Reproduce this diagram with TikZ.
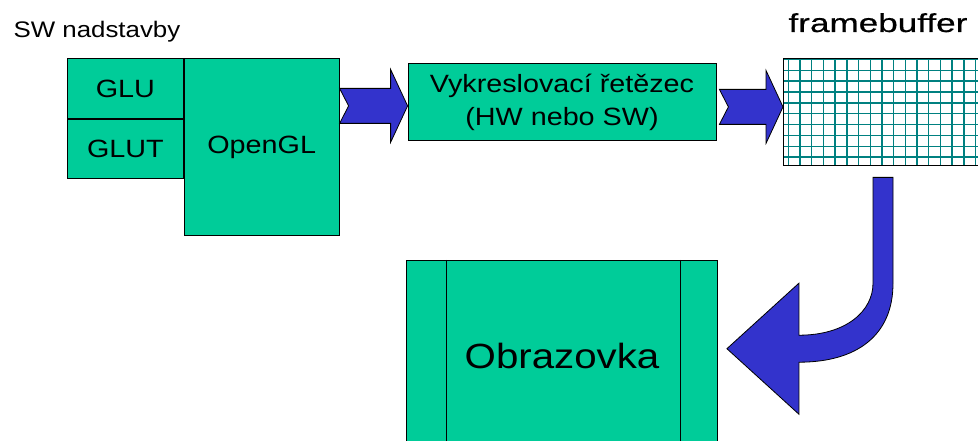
\documentclass[tikz,border=0pt]{standalone}
\usepackage{fontspec}
\setmainfont{Liberation Sans}[FakeStretch=1.15]
\newfontfamily\widefont{Liberation Sans}[FakeStretch=1.35, FakeBold=0.6]
\usetikzlibrary{positioning, calc}

\definecolor{boxgreen}{RGB}{0,204,153}
\definecolor{arrowblue}{RGB}{51,51,204}
\definecolor{gridteal}{RGB}{0,128,128}

% notched block arrow from a tail point to a tip point
\newcommand{\blockarrow}[2]{%
  \filldraw[fill=arrowblue, draw=black, line width=0.8pt] let \p1=(#1), \p2=(#2) in
    (\x1,\y1+17.5pt) -- (\x2-17pt,\y1+17.5pt) -- (\x2-17pt,\y1+36.5pt) -- (\x2,\y1)
    -- (\x2-17pt,\y1-36.5pt) -- (\x2-17pt,\y1-17.5pt) -- (\x1,\y1-17.5pt) -- (\x1+9pt,\y1) -- cycle;}

\begin{document}
\begin{tikzpicture}[x=1pt, y=-1pt,
    box/.style={draw=black, fill=boxgreen, line width=0.8pt, inner sep=0pt,
        align=center, font=\fontsize{25}{33}\selectfont},
    gridline/.style={draw=gridteal, line width=1.4pt}]
        \useasboundingbox (0,0) rectangle (978,441);

        % Define the nodes
        \node[anchor=base west, font=\fontsize{22.5}{27}\selectfont] (sw) at (10,38) {SW nadstavby};
        \node[box, anchor=north west, minimum width=116pt, minimum height=60pt] (glu) at (67,58) {GLU};
        \node[box, below=0pt of glu, minimum width=116pt, minimum height=59pt] (glut) {GLUT};
        \node[box, below right=0pt and 0pt of glu.north east, minimum width=155pt, minimum height=177pt] (opengl) {OpenGL};
        \node[box, below right=5pt and 68pt of opengl.north east, minimum width=308pt, minimum height=77pt] (vykres)
            {Vykreslovací řetězec\\(HW nebo SW)};
        \node[anchor=north west, minimum width=207pt, minimum height=107pt, inner sep=0pt] (fb) at (783,58) {};
        \node[anchor=base west, font=\widefont\fontsize{26}{30}\selectfont] (fblabel) at (785,32) {framebuffer};
        \node[box, below=119pt of vykres, minimum width=311pt, minimum height=191pt,
            font=\fontsize{35}{40}\selectfont] (obraz) {Obrazovka};

        % framebuffer grid
        \foreach \i in {0,...,16}
            \draw[gridline] ($(fb.north west)+(5.3+\i*11.7,0)$) -- ($(fb.south west)+(5.3+\i*11.7,0)$);
        \foreach \j in {0,...,9}
            \draw[gridline] ($(fb.north west)+(0,1.5+\j*10.85)$) -- ($(fb.north east)+(0,1.5+\j*10.85)$);
        \draw[line width=0.8pt] (fb.north west) rectangle (fb.south east);

        % screen edges
        \draw[line width=0.8pt] ($(obraz.north west)+(40,0)$) -- ($(obraz.south west)+(40,0)$);
        \draw[line width=0.8pt] ($(obraz.north east)+(-38,0)$) -- ($(obraz.south east)+(-38,0)$);

        % Define the arrows
        \coordinate (a1) at ([yshift=-4pt]opengl.east |- vykres.west);
        \coordinate (a1tip) at ([yshift=-4pt]vykres.west);
        \blockarrow{a1}{a1tip}
        \coordinate (a2) at ([xshift=3pt, yshift=-5pt]vykres.east);
        \coordinate (a2tip) at (fb.west |- a2);
        \blockarrow{a2}{a2tip}

        \coordinate (fbout) at ($(fb.south west)+(100,12)$);
        \coordinate (screenin) at ($(obraz.east)+(9,-7)$);
        \filldraw[fill=arrowblue, draw=black, line width=0.8pt] let \p1=(fbout), \p2=(screenin) in
            (\x1+10pt,\y1) -- (\x1+10pt,\y1-106pt)
            .. controls (\x1+10pt,\y1-158pt) and (\x2+130pt,\y2-13.5pt) .. (\x2+72pt,\y2-13.5pt)
            -- (\x2+72pt,\y2-65.5pt) -- (\x2,\y2) -- (\x2+72pt,\y2+65.5pt) -- (\x2+72pt,\y2+13.5pt)
            .. controls (\x2+120pt,\y2+13.5pt) and (\x1-10pt,\y1-133pt) .. (\x1-10pt,\y1-106pt)
            -- (\x1-10pt,\y1) -- cycle;
    \end{tikzpicture}
\end{document}
